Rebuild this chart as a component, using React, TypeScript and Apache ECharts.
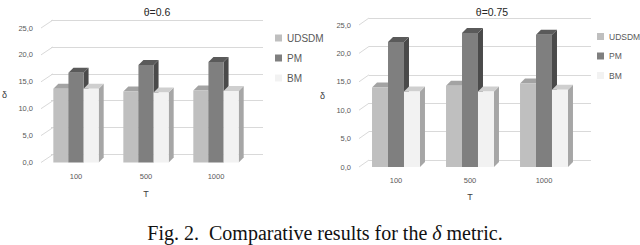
import React, { useEffect, useRef } from "react";
import * as echarts from "echarts";

const categories = ["100", "500", "1000"];
const seriesNames = ["UDSDM", "PM", "BM"];
const yTicks = [0, 5, 10, 15, 20, 25];

// theta = 0.6
const udsdm06 = [13.7, 13.2, 13.4];
const pm06 = [16.7, 18.1, 18.7];
const bm06 = [13.7, 13.0, 13.3];

// theta = 0.75
const udsdm075 = [14.0, 14.3, 14.7];
const pm075 = [22.0, 23.6, 23.3];
const bm075 = [13.3, 13.3, 13.6];

const palette = [
  { front: "#bfbfbf", top: "#a3a3a3", side: "#9a9a9a" },
  { front: "#7f7f7f", top: "#5a5a5a", side: "#4a4a4a" },
  { front: "#f2f2f2", top: "#cfcfcf", side: "#a6a6a6" },
];

const FONT = "Liberation Sans";
const TEXT = "#595959";

function barSeries(name: string, values: number[], idx: number, axisIdx: number) {
  const c = palette[idx];
  return {
    type: "custom",
    name,
    xAxisIndex: axisIdx,
    yAxisIndex: axisIdx,
    itemStyle: { color: c.front },
    data: values.map((v, i) => [i, v]),
    renderItem: (params: any, api: any) => {
      const ci = api.value(0);
      const v = api.value(1);
      const base = api.coord([ci, 0]);
      const top = api.coord([ci, v]);
      const band = api.size([1, 0])[0];
      const w = band * 0.216;
      const x0 = base[0] + (idx - 1.5) * w;
      const x1 = x0 + w;
      const yb = base[1];
      const yt = top[1];
      const dx = 5;
      const dy = -5;
      return {
        type: "group",
        children: [
          {
            type: "polygon",
            shape: { points: [[x1, yb], [x1 + dx, yb + dy], [x1 + dx, yt + dy], [x1, yt]] },
            style: { fill: c.side },
          },
          {
            type: "polygon",
            shape: { points: [[x0, yt], [x1, yt], [x1 + dx, yt + dy], [x0 + dx, yt + dy]] },
            style: { fill: c.top },
          },
          {
            type: "polygon",
            shape: { points: [[x0, yb], [x1, yb], [x1, yt], [x0, yt]] },
            style: { fill: c.front },
          },
        ],
      };
    },
  };
}

function tickSeries(axisIdx: number, dx: number, dy: number) {
  return {
    type: "custom",
    xAxisIndex: axisIdx,
    yAxisIndex: axisIdx,
    silent: true,
    data: yTicks.map((v) => [0, v]),
    renderItem: (params: any, api: any) => {
      const p = api.coord([0, api.value(1)]);
      const band = api.size([1, 0])[0];
      const x = p[0] - band / 2;
      return {
        type: "line",
        shape: { x1: x, y1: p[1], x2: x + dx, y2: p[1] + dy },
        style: { stroke: "#d9d9d9", lineWidth: 1 },
      };
    },
  };
}

function frontAxes(nameGapX: number, marginX: number) {
  return {
    x: {
      type: "category",
      data: categories,
      axisLine: { show: false },
      axisTick: { show: false },
      axisLabel: { color: TEXT, fontSize: 7.5, fontFamily: FONT, margin: marginX },
      name: "T",
      nameLocation: "middle",
      nameGap: nameGapX,
      nameTextStyle: { color: "#404040", fontSize: 9, fontFamily: FONT },
    },
    y: {
      type: "value",
      min: 0,
      max: 25,
      interval: 5,
      axisLine: { show: false },
      axisTick: { show: false },
      splitLine: { show: false },
      axisLabel: {
        color: TEXT,
        fontSize: 7.5,
        fontFamily: FONT,
        margin: 8,
        formatter: (v: number) => v.toFixed(1).replace(".", ","),
      },
      name: "δ",
      nameLocation: "middle",
      nameRotate: 0,
      nameGap: 34,
      nameTextStyle: { color: "#404040", fontSize: 9, fontFamily: FONT },
    },
  };
}

function backAxes() {
  return {
    x: { type: "category", data: categories, show: false },
    y: {
      type: "value",
      min: 0,
      max: 25,
      interval: 5,
      axisLine: { show: false },
      axisTick: { show: false },
      axisLabel: { show: false },
      splitLine: { show: true, lineStyle: { color: "#d9d9d9", width: 1 } },
    },
  };
}

export default function App() {
  const ref = useRef<HTMLDivElement>(null);
  useEffect(() => {
    if (!ref.current) return;
    const chart = echarts.init(ref.current, undefined, { renderer: "svg" });
    const fL = frontAxes(27, 10);
    const fR = frontAxes(25, 9);
    const bL = backAxes();
    const bR = backAxes();
    const legendBase = {
      orient: "vertical",
      icon: "rect",
      itemWidth: 7,
      itemHeight: 7,
      itemGap: 10,
      data: seriesNames,
      selectedMode: false,
    };
    chart.setOption({
      animation: false,
      backgroundColor: "#ffffff",
      title: [
        {
          text: "θ=0.6",
          left: 152,
          top: 1,
          textAlign: "center",
          textStyle: { fontSize: 10.5, fontWeight: "normal", color: "#262626", fontFamily: FONT },
        },
        {
          text: "θ=0.75",
          left: 487,
          top: 1,
          textAlign: "center",
          textStyle: { fontSize: 10.5, fontWeight: "normal", color: "#262626", fontFamily: FONT },
        },
        {
          text: "{a|Fig. 2.  Comparative results for the }{i|δ}{a| metric.}",
          left: 320,
          top: 218,
          textAlign: "center",
          textStyle: {
            fontWeight: "normal",
            rich: {
              a: { fontSize: 20, fontFamily: "Liberation Serif", fontWeight: "normal", color: "#111" },
              i: {
                fontSize: 20,
                fontFamily: "Liberation Serif",
                fontWeight: "normal",
                fontStyle: "italic",
                color: "#111",
              },
            },
          },
        },
      ],
      legend: [
        {
          ...legendBase,
          left: 270,
          top: 28,
          textStyle: { color: TEXT, fontSize: 10, fontFamily: FONT },
        },
        {
          ...legendBase,
          left: 592,
          top: 27,
          itemGap: 10.5,
          textStyle: { color: TEXT, fontSize: 8.5, fontFamily: FONT },
        },
      ],
      grid: [
        { left: 39, top: 28, width: 212, height: 134.5 },
        { left: 51, top: 20, width: 212, height: 134.5 },
        { left: 359, top: 25, width: 222, height: 142 },
        { left: 369, top: 18, width: 222, height: 142 },
      ],
      xAxis: [
        { ...fL.x, gridIndex: 0 },
        { ...bL.x, gridIndex: 1 },
        { ...fR.x, gridIndex: 2 },
        { ...bR.x, gridIndex: 3 },
      ],
      yAxis: [
        { ...fL.y, gridIndex: 0 },
        { ...bL.y, gridIndex: 1 },
        { ...fR.y, gridIndex: 2 },
        { ...bR.y, gridIndex: 3 },
      ],
      series: [
        tickSeries(0, 12, -8),
        tickSeries(2, 10, -7),
        barSeries("UDSDM", udsdm06, 0, 0),
        barSeries("PM", pm06, 1, 0),
        barSeries("BM", bm06, 2, 0),
        barSeries("UDSDM", udsdm075, 0, 2),
        barSeries("PM", pm075, 1, 2),
        barSeries("BM", bm075, 2, 2),
      ],
    });
    return () => chart.dispose();
  }, []);
  return (
    <div
      ref={ref}
      style={{ position: "fixed", left: 0, top: 0, width: 640, height: 245, background: "#fff" }}
    />
  );
}
